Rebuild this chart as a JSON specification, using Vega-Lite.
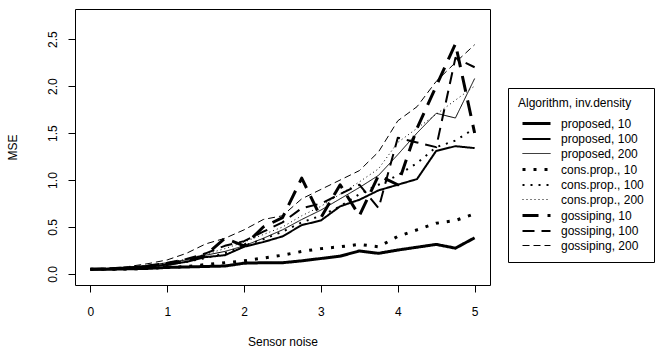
{
  "$schema": "https://vega.github.io/schema/vega-lite/v6.json",
  "width": 415,
  "height": 276,
  "autosize": {"type": "none"},
  "padding": {"left": 75, "top": 9, "right": 174, "bottom": 71},
  "background": "white",
  "config": {
    "view": {"stroke": "black", "strokeWidth": 1},
    "font": "Liberation Sans"
  },
  "data": {
    "values": [
      {"series": "proposed, 10", "noise": [0,0.25,0.5,0.75,1,1.25,1.5,1.75,2,2.25,2.5,2.75,3,3.25,3.5,3.75,4,4.25,4.5,4.75,5], "mse": [0.05,0.05,0.055,0.06,0.07,0.075,0.08,0.085,0.115,0.12,0.12,0.14,0.165,0.19,0.245,0.22,0.255,0.285,0.315,0.275,0.385]},
      {"series": "proposed, 100", "noise": [0,0.25,0.5,0.75,1,1.25,1.5,1.75,2,2.25,2.5,2.75,3,3.25,3.5,3.75,4,4.25,4.5,4.75,5], "mse": [0.05,0.055,0.065,0.08,0.1,0.13,0.18,0.2,0.29,0.34,0.4,0.52,0.57,0.72,0.79,0.89,0.95,1.01,1.31,1.36,1.34]},
      {"series": "proposed, 200", "noise": [0,0.25,0.5,0.75,1,1.25,1.5,1.75,2,2.25,2.5,2.75,3,3.25,3.5,3.75,4,4.25,4.5,4.75,5], "mse": [0.05,0.06,0.07,0.09,0.12,0.15,0.2,0.24,0.3,0.38,0.47,0.58,0.68,0.8,0.92,1.05,1.27,1.5,1.71,1.66,2.08]},
      {"series": "cons.prop., 10", "noise": [0,0.25,0.5,0.75,1,1.25,1.5,1.75,2,2.25,2.5,2.75,3,3.25,3.5,3.75,4,4.25,4.5,4.75,5], "mse": [0.05,0.05,0.055,0.06,0.07,0.08,0.1,0.12,0.14,0.17,0.2,0.24,0.27,0.29,0.315,0.29,0.4,0.47,0.54,0.57,0.64]},
      {"series": "cons.prop., 100", "noise": [0,0.25,0.5,0.75,1,1.25,1.5,1.75,2,2.25,2.5,2.75,3,3.25,3.5,3.75,4,4.25,4.5,4.75,5], "mse": [0.05,0.055,0.065,0.08,0.1,0.13,0.17,0.22,0.3,0.37,0.45,0.55,0.62,0.72,0.85,0.95,1.05,1.18,1.35,1.42,1.55]},
      {"series": "cons.prop., 200", "noise": [0,0.25,0.5,0.75,1,1.25,1.5,1.75,2,2.25,2.5,2.75,3,3.25,3.5,3.75,4,4.25,4.5,4.75,5], "mse": [0.05,0.06,0.07,0.09,0.12,0.16,0.21,0.27,0.34,0.42,0.5,0.62,0.72,0.85,0.98,1.12,1.4,1.55,1.7,1.85,2.0]},
      {"series": "gossiping, 10", "noise": [0,0.25,0.5,0.75,1,1.25,1.5,1.75,2,2.25,2.5,2.75,3,3.25,3.5,3.75,4,4.25,4.5,4.75,5], "mse": [0.05,0.055,0.065,0.08,0.1,0.14,0.2,0.38,0.3,0.5,0.6,1.02,0.6,0.95,0.62,1.05,0.95,1.55,2.0,2.45,1.5]},
      {"series": "gossiping, 100", "noise": [0,0.25,0.5,0.75,1,1.25,1.5,1.75,2,2.25,2.5,2.75,3,3.25,3.5,3.75,4,4.25,4.5,4.75,5], "mse": [0.05,0.06,0.07,0.09,0.12,0.16,0.22,0.3,0.35,0.45,0.55,0.7,0.75,0.85,0.95,0.7,1.45,1.4,1.35,2.3,2.2]},
      {"series": "gossiping, 200", "noise": [0,0.25,0.5,0.75,1,1.25,1.5,1.75,2,2.25,2.5,2.75,3,3.25,3.5,3.75,4,4.25,4.5,4.75,5], "mse": [0.05,0.06,0.08,0.11,0.15,0.22,0.32,0.38,0.47,0.58,0.62,0.8,0.9,1.0,1.1,1.3,1.63,1.78,2.05,2.25,2.44]}
    ]
  },
  "transform": [{"flatten": ["noise", "mse"]}],
  "mark": {"type": "line", "color": "black", "strokeCap": "butt", "strokeJoin": "round"},
  "encoding": {
    "x": {
      "field": "noise", "type": "quantitative",
      "scale": {"domain": [-0.2, 5.2], "nice": false, "zero": false},
      "axis": {
        "values": [0, 1, 2, 3, 4, 5], "format": "d", "grid": false, "domain": false,
        "tickColor": "black", "tickSize": 7, "tickWidth": 1,
        "labelFontSize": 12, "labelColor": "black", "labelBaseline": "alphabetic", "labelPadding": 23,
        "title": "Sensor noise", "titleFontSize": 12, "titleFontWeight": "normal", "titleColor": "black",
        "titleX": 207.5, "titleY": 60, "titleBaseline": "alphabetic", "titleAlign": "center"
      }
    },
    "y": {
      "field": "mse", "type": "quantitative",
      "scale": {"domain": [-0.117, 2.82], "nice": false, "zero": false},
      "axis": {
        "values": [0, 0.5, 1, 1.5, 2, 2.5], "format": ".1f", "grid": false, "domain": false,
        "tickColor": "black", "tickSize": 7, "tickWidth": 1,
        "labelFontSize": 12, "labelColor": "black", "labelAngle": 270, "labelAlign": "center", "labelBaseline": "alphabetic", "labelPadding": 12,
        "title": "MSE", "titleFontSize": 12, "titleFontWeight": "normal", "titleColor": "black",
        "titleAngle": 270, "titleX": -59, "titleY": 138, "titleBaseline": "alphabetic", "titleAlign": "center"
      }
    },
    "strokeDash": {
      "field": "series", "type": "nominal",
      "scale": {
        "domain": ["proposed, 10", "proposed, 100", "proposed, 200", "cons.prop., 10", "cons.prop., 100", "cons.prop., 200", "gossiping, 10", "gossiping, 100", "gossiping, 200"],
        "range": [[1, 0], [1, 0], [1, 0], [3, 8], [2, 6], [1, 3], [16, 9], [12, 7], [7, 4]]
      },
      "legend": {
        "title": "Algorithm, inv.density", "orient": "none", "legendX": 433, "legendY": 79,
        "strokeColor": "black", "fillColor": "white", "cornerRadius": 0, "padding": 10,
        "titleFontSize": 12, "titleFontWeight": "normal", "titleColor": "black", "titlePadding": 5,
        "labelFontSize": 12, "labelColor": "black", "labelOffset": 26,
        "symbolType": "M-0.57,0H3.43", "symbolSize": 196, "symbolStrokeColor": "black", "rowPadding": 1
      }
    },
    "strokeWidth": {
      "field": "series", "type": "nominal",
      "scale": {
        "type": "ordinal",
        "domain": ["proposed, 10", "proposed, 100", "proposed, 200", "cons.prop., 10", "cons.prop., 100", "cons.prop., 200", "gossiping, 10", "gossiping, 100", "gossiping, 200"],
        "range": [3, 2, 1, 3, 2, 1, 3, 2, 1]
      },
      "legend": {
        "title": "Algorithm, inv.density", "orient": "none", "legendX": 433, "legendY": 79,
        "strokeColor": "black", "fillColor": "white", "cornerRadius": 0, "padding": 10,
        "titleFontSize": 12, "titleFontWeight": "normal", "titleColor": "black", "titlePadding": 5,
        "labelFontSize": 12, "labelColor": "black", "labelOffset": 26,
        "symbolType": "M-0.57,0H3.43", "symbolSize": 196, "symbolStrokeColor": "black", "rowPadding": 1
      }
    }
  }
}
